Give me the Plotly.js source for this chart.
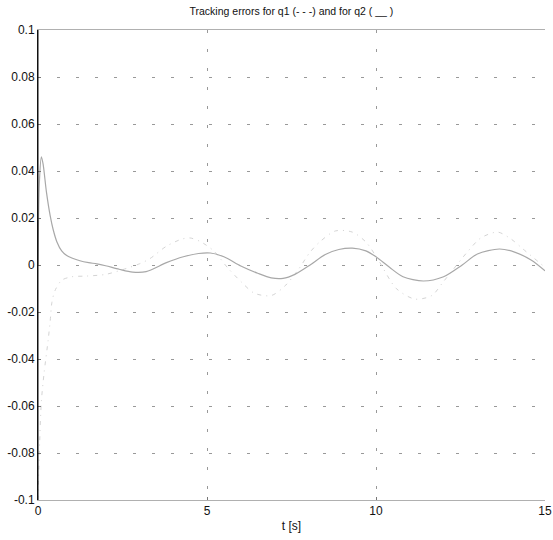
<!DOCTYPE html>
<html>
<head>
<meta charset="utf-8">
<script src="https://cdn.plot.ly/plotly-3.0.1.min.js"></script>
<style>html,body{margin:0;padding:0;background:#fff;}#chart{width:553px;height:540px;}</style>
</head>
<body>
<div id="chart"></div>
<script>
// q1 tracking error (dash-dot curve)
var tQ1 = [0, 0.05, 0.1, 0.18, 0.3, 0.36, 0.41, 0.5, 0.7, 1.0, 1.45, 2.0, 2.5, 3.0, 3.3, 3.8, 4.25, 4.5, 4.8, 5.2, 5.6, 6.0, 6.4, 6.9, 7.3, 7.7, 8.05, 8.35, 8.8, 9.3, 9.7, 10.05, 10.6, 11.15, 11.65, 12.0, 12.7, 13.1, 13.6, 14.0, 14.35, 15];
var q1 = [-0.1, -0.075, -0.058, -0.046, -0.032, -0.024, -0.016, -0.011, -0.0065, -0.005, -0.0047, -0.004, -0.002, 0.0005, 0.0026, 0.008, 0.011, 0.0115, 0.01, 0.006, -0.001, -0.007, -0.012, -0.013, -0.009, -0.002, 0.0055, 0.01, 0.0145, 0.014, 0.0098, 0.0026, -0.01, -0.0145, -0.013, -0.007, 0.0055, 0.0115, 0.014, 0.011, 0.0068, -0.001];
// q2 tracking error (solid curve)
var tQ2 = [0, 0.04, 0.1, 0.15, 0.25, 0.36, 0.45, 0.56, 0.7, 0.85, 1.0, 1.24, 1.5, 1.74, 2.0, 2.4, 2.8, 3.2, 3.8, 4.3, 4.75, 5.1, 5.5, 6.0, 6.5, 6.9, 7.25, 7.6, 8.05, 8.5, 8.9, 9.3, 9.7, 10.0, 10.4, 10.8, 11.4, 12.0, 12.55, 13.0, 13.65, 14.1, 14.6, 15];
var q2 = [0, 0.035, 0.046, 0.043, 0.031, 0.021, 0.015, 0.0098, 0.006, 0.004, 0.003, 0.0018, 0.001, 0.0005, -0.0003, -0.0018, -0.003, -0.0028, 0.001, 0.0035, 0.0049, 0.0051, 0.0035, -0.0004, -0.0035, -0.0055, -0.0057, -0.004, 0, 0.0045, 0.0066, 0.0072, 0.006, 0.0035, -0.001, -0.005, -0.0068, -0.005, 0, 0.0047, 0.0068, 0.0055, 0.002, -0.0025];
var xTicks = [0, 5, 10, 15];
var yTicks = [-0.1, -0.08, -0.06, -0.04, -0.02, 0, 0.02, 0.04, 0.06, 0.08, 0.1];
var yTickText = ['-0.1', '-0.08', '-0.06', '-0.04', '-0.02', '0', '0.02', '0.04', '0.06', '0.08', '0.1'];

var traces = [
  {x: tQ1, y: q1, mode: 'lines', line: {color: '#d4d4d4', width: 1, dash: '4px,5px,1px,5px', shape: 'spline', smoothing: 0.8}, hoverinfo: 'skip'},
  {x: tQ2, y: q2, mode: 'lines', line: {color: '#a8a8a8', width: 1.2, shape: 'spline', smoothing: 0.8}, hoverinfo: 'skip'}
];

var layout = {
  width: 553, height: 540,
  margin: {l: 38, r: 8, t: 30, b: 40},
  paper_bgcolor: '#fff', plot_bgcolor: '#fff',
  showlegend: false,
  font: {family: 'Liberation Sans, Arial, sans-serif', color: '#111', size: 12},
  title: {text: 'Tracking errors for q1 (- - -) and for q2 ( __ )', font: {size: 10.5, color: '#111'}, x: 0.527, xanchor: 'center', y: 0.985, yanchor: 'top'},
  xaxis: {
    range: [0, 15], tickvals: xTicks, ticktext: xTicks.map(String),
    showgrid: true, gridcolor: '#999', griddash: '3px,16px', gridwidth: 1,
    zeroline: false, showline: true, linecolor: '#b0b0b0', linewidth: 1, mirror: true,
    ticks: 'inside', ticklen: 3, tickcolor: '#777',
    tickfont: {size: 12},
    title: {text: 't [s]', font: {size: 12}, standoff: 4}
  },
  yaxis: {
    range: [-0.1, 0.1], tickvals: yTicks, ticktext: yTickText,
    showgrid: true, gridcolor: '#999', griddash: '3px,16px', gridwidth: 1,
    zeroline: false, showline: true, linecolor: '#111', linewidth: 1,
    ticks: 'inside', ticklen: 3, tickcolor: '#777',
    tickfont: {size: 12}
  },
  shapes: [
    {type: 'line', xref: 'paper', yref: 'paper', x0: 0, x1: 0, y0: 0, y1: 1, line: {color: '#111', width: 1}}
  ]
};

Plotly.newPlot('chart', traces, layout, {staticPlot: true, displayModeBar: false});
</script>
</body>
</html>
